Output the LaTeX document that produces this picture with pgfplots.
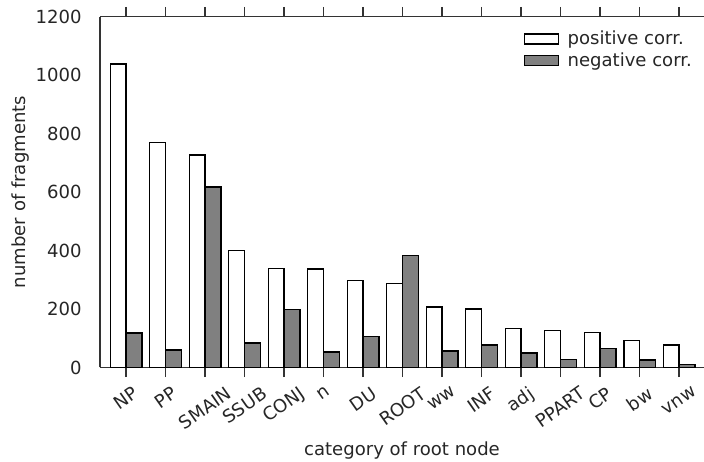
\documentclass[border=0pt]{standalone}
\usepackage{pgfplots}
\pgfplotsset{compat=1.18}
\usepackage{fontspec}
\setmainfont{DejaVu Sans}
\definecolor{txt}{HTML}{262626}
\definecolor{spine}{HTML}{333333}
\definecolor{bargray}{HTML}{808080}
\begin{document}
\begin{tikzpicture}[font=\fontsize{13}{15}\selectfont]
\begin{axis}[
  scale only axis, width=434.9pt, height=252.7pt,
  xmin=-0.66, xmax=14.63, ymin=0, ymax=1200,
  axis x line*=box, axis y line*=left,
  axis line style={draw=spine, line width=1.1pt},
  x axis line style={-}, y axis line style={-},
  ytick={0,200,...,1200},
  ytick style={draw=none},
  yticklabel style={anchor=east, inner sep=0pt, xshift=-6pt, text=txt, font=\fontsize{13}{15}\selectfont},
  /pgf/number format/assume math mode=true,
  /pgf/number format/1000 sep={},
  xtick={0,...,14},
  xticklabels={\rotatebox{35}{NP},\rotatebox{35}{PP},\rotatebox{35}{SMAIN},\rotatebox{35}{SSUB},\rotatebox{35}{CONJ},\rotatebox{35}{n},\rotatebox{35}{DU},\rotatebox{35}{ROOT},\rotatebox{35}{ww},\rotatebox{35}{INF},\rotatebox{35}{adj},\rotatebox{35}{PPART},\rotatebox{35}{CP},\rotatebox{35}{bw},\rotatebox{35}{vnw}},
  xticklabel style={anchor=north, inner sep=0pt, yshift=-6pt, text=txt, font=\fontsize{13}{15}\selectfont},
  tick align=outside,
  xtick style={draw=spine, line width=1pt},
  major tick length=7pt,
  xlabel={category of root node},
  xlabel style={at={(axis description cs:0.5,0)}, anchor=base, yshift=-63.4pt, text=txt, font=\fontsize{13}{15}\selectfont},
  ylabel={number of fragments},
  ylabel style={at={(axis description cs:0,0.5)}, anchor=south, inner sep=0pt, yshift=51pt, text=txt, font=\fontsize{13}{15}\selectfont},
  legend style={draw=none, fill=none, at={(rel axis cs:0.985,0.967)}, anchor=north east,
    row sep=0pt, inner sep=0pt, font=\fontsize{13}{15}\selectfont, text=txt,
    legend cell align=left},
  ybar, bar width=0.4,
]
\addplot[ybar, bar shift=-0.2, draw=black, line width=1pt, fill=white,
  legend image code/.code={\draw[draw=black, line width=1pt, fill=white] (0pt,-3.6pt) rectangle (24.5pt,3.6pt);}]
 coordinates {(0,1038) (1,770) (2,727) (3,399) (4,338) (5,337) (6,297) (7,288) (8,207) (9,200) (10,134) (11,126) (12,120) (13,92) (14,77)};
\addlegendentry{\hspace{4pt}positive corr.}
\addplot[ybar, bar shift=0.2, draw=black, line width=1pt, fill=bargray,
  legend image code/.code={\draw[draw=black, line width=1pt, fill=bargray] (0pt,-3.6pt) rectangle (24.5pt,3.6pt);}]
 coordinates {(0,118) (1,60) (2,617) (3,84) (4,198) (5,53) (6,106) (7,382) (8,56) (9,77) (10,50) (11,28) (12,65) (13,25) (14,11)};
\addlegendentry{\hspace{4pt}negative corr.}
\coordinate (bl) at (rel axis cs:0,0);
\coordinate (tr) at (rel axis cs:1,1);
\end{axis}
\pgfresetboundingbox
\useasboundingbox ([xshift=-72pt,yshift=-67.5pt]bl) rectangle ([yshift=11.9pt]tr);
\end{tikzpicture}
\end{document}
